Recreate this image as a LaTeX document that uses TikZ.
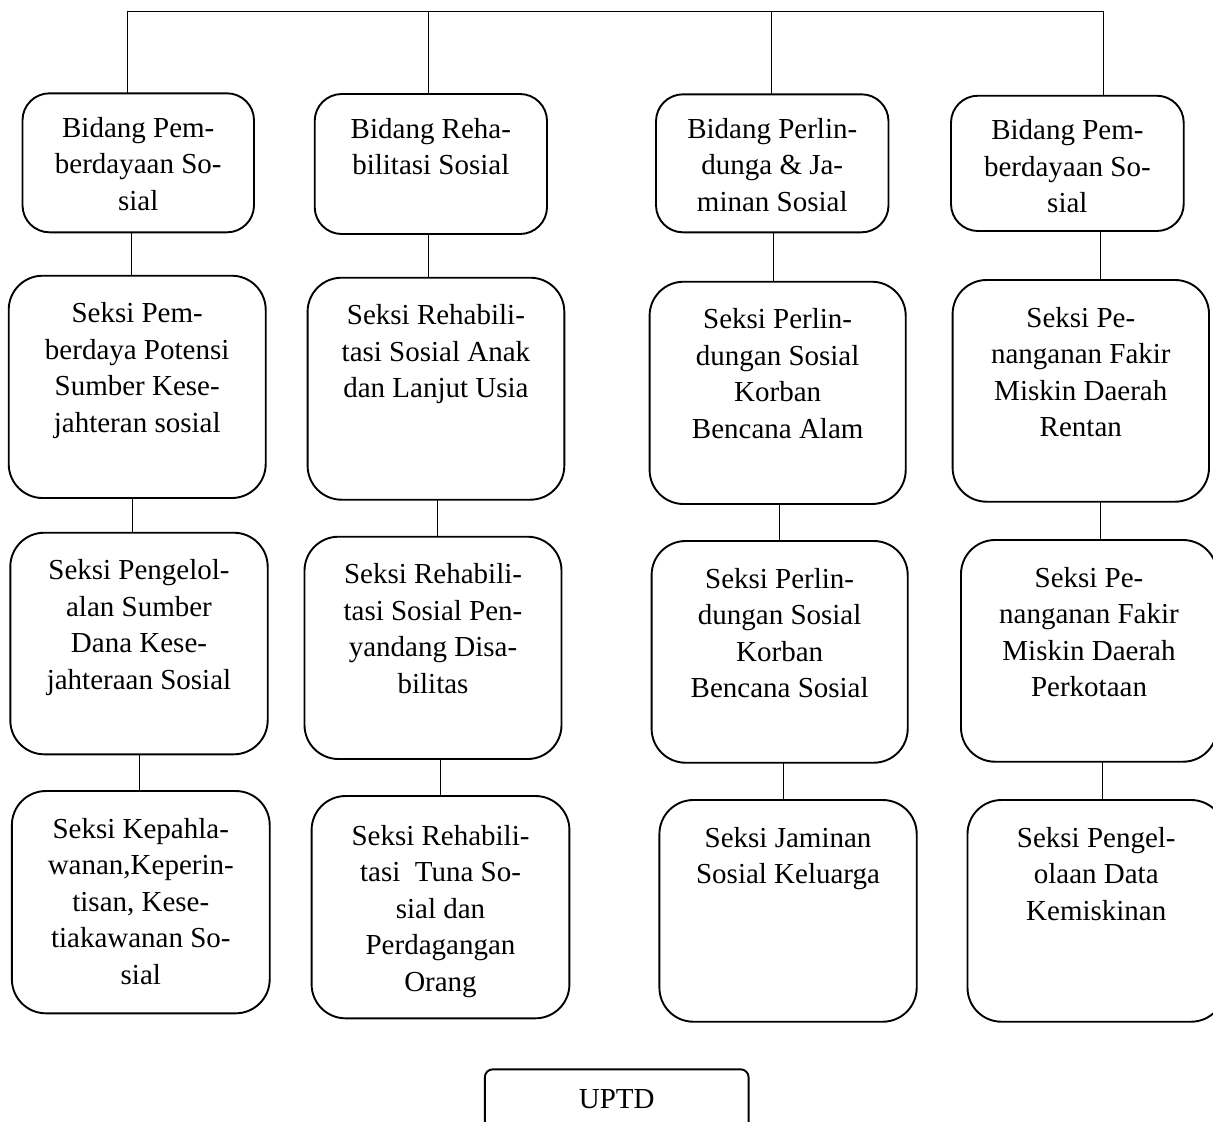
\documentclass[tikz,border=0pt]{standalone}
\usepackage{fontspec}
\setmainfont{Liberation Serif}
% #1 style, #2 name, #3 x1, #4 y1, #5 x2, #6 y2, #7 first-baseline offset, #8 text
\newcommand\orgbox[8]{%
  \node[#1] (#2) at ({(#3+#5)/2},{(#4+#6)/2})
    {\parbox[c][\dimexpr(#6pt-#4pt)/2\relax][t]{\dimexpr(#5pt-#3pt)/2\relax}{\centering\rule{0pt}{#7}#8}};%
}
\begin{document}
\begin{tikzpicture}[x=0.5pt,y=-0.5pt,
  basebox/.style={draw,inner sep=0pt,outer sep=0pt,line width=0.95pt,
    font=\fontsize{14.5}{18.3}\selectfont},
  bidang/.style={basebox,rounded corners=13.5pt},
  seksi/.style={basebox,rounded corners=17pt},
  uptdbox/.style={basebox,rounded corners=4pt},
  link/.style={draw,line width=0.5pt}]
\clip (0,0) rectangle (1213,1121);
% row 1
\orgbox{bidang}{A1}{22.5}{93.3}{254}{232.3}{22pt}{Bidang Pem-\\berdayaan So-\\sial}
\orgbox{bidang}{B1}{314.7}{94}{547}{234}{22pt}{Bidang Reha-\\bilitasi Sosial}
\orgbox{bidang}{C1}{656}{94.3}{888.5}{232.3}{22pt}{Bidang Perlin-\\dunga \& Ja-\\minan Sosial}
\orgbox{bidang}{D1}{951}{95.7}{1183.7}{231}{22pt}{Bidang Pem-\\berdayaan So-\\sial}
% row 2
\orgbox{seksi}{A2}{8.7}{275.7}{265.7}{498}{23.5pt}{Seksi Pem-\\berdaya Potensi\\Sumber Kese-\\jahteran sosial}
\orgbox{seksi}{B2}{307.6}{277.7}{564.3}{499.7}{23.5pt}{Seksi Rehabili-\\tasi Sosial Anak\\dan Lanjut Usia}
\orgbox{seksi}{C2}{649.6}{281.7}{905.7}{504}{23.5pt}{Seksi Perlin-\\dungan Sosial\\Korban\\Bencana Alam}
\orgbox{seksi}{D2}{952.6}{280}{1209}{501.7}{23.5pt}{Seksi Pe-\\nanganan Fakir\\Miskin Daerah\\Rentan}
% row 3
\orgbox{seksi}{A3}{10.3}{532.7}{267.7}{754.3}{23.5pt}{Seksi Pengelol-\\alan Sumber\\Dana Kese-\\jahteraan Sosial}
\orgbox{seksi}{B3}{304.5}{536.7}{561.5}{759}{23.5pt}{Seksi Rehabili-\\tasi Sosial Pen-\\yandang Disa-\\bilitas}
\orgbox{seksi}{C3}{651.6}{541}{907.7}{762.7}{23.5pt}{Seksi Perlin-\\dungan Sosial\\Korban\\Bencana Sosial}
\orgbox{seksi}{D3}{961}{540}{1217}{761.7}{23.5pt}{Seksi Pe-\\nanganan Fakir\\Miskin Daerah\\Perkotaan}
% row 4
\orgbox{seksi}{A4}{11.9}{791}{269.7}{1013.3}{23.5pt}{Seksi Kepahla-\\wanan,Keperin-\\tisan, Kese-\\tiakawanan So-\\sial}
\orgbox{seksi}{B4}{311.6}{796}{569.4}{1018.3}{24.5pt}{Seksi Rehabili-\\tasi\ \ Tuna So-\\sial dan\\Perdagangan\\Orang}
\orgbox{seksi}{C4}{659.4}{800}{916.7}{1021.7}{23.5pt}{Seksi Jaminan\\Sosial Keluarga}
\orgbox{seksi}{D4}{967.5}{800}{1225}{1021.7}{23.5pt}{Seksi Pengel-\\olaan Data\\Kemiskinan}
% UPTD
\orgbox{uptdbox}{U}{484.8}{1069.3}{748.6}{1135}{19.5pt}{UPTD}
% top bus
\coordinate (tA) at (127,11.5);
\coordinate (tB) at (428.6,11.5);
\coordinate (tC) at (771,11.5);
\coordinate (tD) at (1103,11.5);
\path[link] (A1.north -| tA) -- (tA) -- (tD) -- (D1.north -| tD);
\path[link] (tB) -- (B1.north -| tB);
\path[link] (tC) -- (C1.north -| tC);
% vertical links
\coordinate (xA1) at (131,0);   \coordinate (xA2) at (132.5,0); \coordinate (xA3) at (139.2,0);
\coordinate (xB1) at (428.6,0); \coordinate (xB2) at (437,0);   \coordinate (xB3) at (440.9,0);
\coordinate (xC1) at (773,0);   \coordinate (xC2) at (779,0);   \coordinate (xC3) at (783.3,0);
\coordinate (xD1) at (1100.8,0);\coordinate (xD2) at (1100.8,0);\coordinate (xD3) at (1102.7,0);
\foreach \c in {A,B,C,D}{
  \path[link] (\c1.south -| x\c1) -- (\c2.north -| x\c1);
  \path[link] (\c2.south -| x\c2) -- (\c3.north -| x\c2);
  \path[link] (\c3.south -| x\c3) -- (\c4.north -| x\c3);
}
\end{tikzpicture}
\end{document}
